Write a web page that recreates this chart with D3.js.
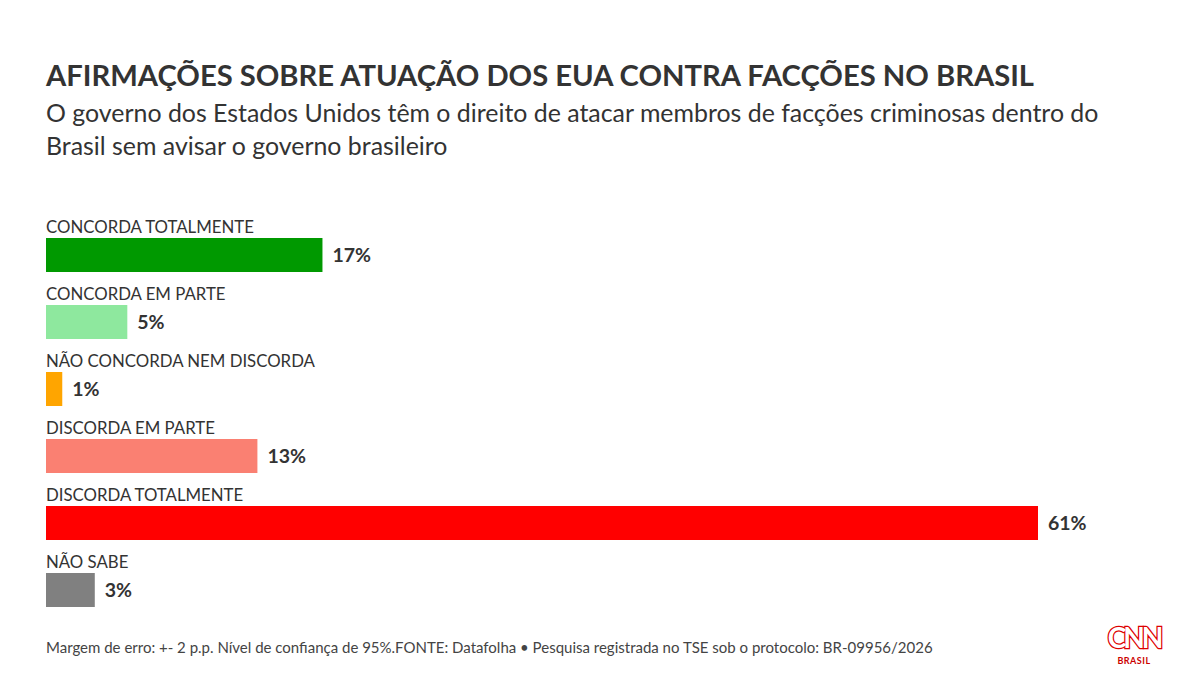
<!DOCTYPE html>
<html>
<head>
<meta charset="utf-8">
<script src="https://cdn.jsdelivr.net/npm/d3@7"></script>
<style>
  body { margin: 0; background: #fff; }
  text { font-family: Lato, "Noto Sans", sans-serif; }
</style>
</head>
<body>
<div id="chart"></div>
<script>
const WIDTH = 1200;
const HEIGHT = 675;

const categorias = [
    "CONCORDA TOTALMENTE",
    "CONCORDA EM PARTE",
    "NÃO CONCORDA NEM DISCORDA",
    "DISCORDA EM PARTE",
    "DISCORDA TOTALMENTE",
    "NÃO SABE"
];
const valores = [17, 5, 1, 13, 61, 3];
const cores = ["#009900", "#8ee89e", "#ffa500", "#fa8072", "#ff0000", "#808080"];

const svg = d3.select("#chart")
    .append("svg")
    .attr("width", WIDTH)
    .attr("height", HEIGHT);

// titulo e subtitulo
svg.append("text")
    .attr("x", 46).attr("y", 86)
    .attr("fill", "#333")
    .attr("font-size", 29.2)
    .attr("font-weight", 700)
    .text("AFIRMAÇÕES SOBRE ATUAÇÃO DOS EUA CONTRA FACÇÕES NO BRASIL");

svg.append("text")
    .attr("x", 46).attr("y", 122)
    .attr("fill", "#333")
    .attr("font-size", 24.9)
    .text("O governo dos Estados Unidos têm o direito de atacar membros de facções criminosas dentro do");

svg.append("text")
    .attr("x", 46).attr("y", 155)
    .attr("fill", "#333")
    .attr("font-size", 24.9)
    .text("Brasil sem avisar o governo brasileiro");

const x = d3.scaleLinear()
    .domain([0, 61])
    .range([46, 1038]);

const y = d3.scaleBand()
    .domain(categorias)
    .range([238, 640])
    .paddingInner(0)
    .paddingOuter(0);

const barH = 34;

const grupos = svg.selectAll("g.linha")
    .data(categorias)
    .enter().append("g")
    .attr("class", "linha");

grupos.append("text")
    .attr("x", 46)
    .attr("y", d => y(d) - 5)
    .attr("fill", "#333")
    .attr("font-size", 16.8)
    .text(d => d);

grupos.append("rect")
    .attr("x", x(0))
    .attr("y", d => y(d))
    .attr("height", barH)
    .attr("width", (d, i) => x(valores[i]) - x(0))
    .attr("fill", (d, i) => cores[i]);

grupos.append("text")
    .attr("x", (d, i) => x(valores[i]) + 10)
    .attr("y", d => y(d) + barH / 2 + 7)
    .attr("fill", "#333")
    .attr("font-size", 19.5)
    .attr("font-weight", 700)
    .text((d, i) => valores[i] + "%");

// rodape
svg.append("text")
    .attr("x", 46).attr("y", 653)
    .attr("fill", "#444")
    .attr("font-size", 15)
    .text("Margem de erro: +- 2 p.p. Nível de confiança de 95%.FONTE: Datafolha • Pesquisa registrada no TSE sob o protocolo: BR-09956/2026");

// logo CNN
const logo = svg.append("g").attr("transform", "translate(1134, 0)");
logo.append("text")
    .attr("x", 0).attr("y", 648)
    .attr("text-anchor", "middle")
    .attr("font-size", 28)
    .attr("font-weight", 700)
    .attr("letter-spacing", -3)
    .attr("fill", "#fff")
    .attr("stroke", "#d00")
    .attr("stroke-width", 2.5)
    .attr("paint-order", "stroke")
    .text("CNN");
logo.append("text")
    .attr("x", 0).attr("y", 664)
    .attr("text-anchor", "middle")
    .attr("font-size", 9)
    .attr("font-weight", 700)
    .attr("letter-spacing", 0.5)
    .attr("fill", "#c00")
    .text("BRASIL");
</script>
</body>
</html>
